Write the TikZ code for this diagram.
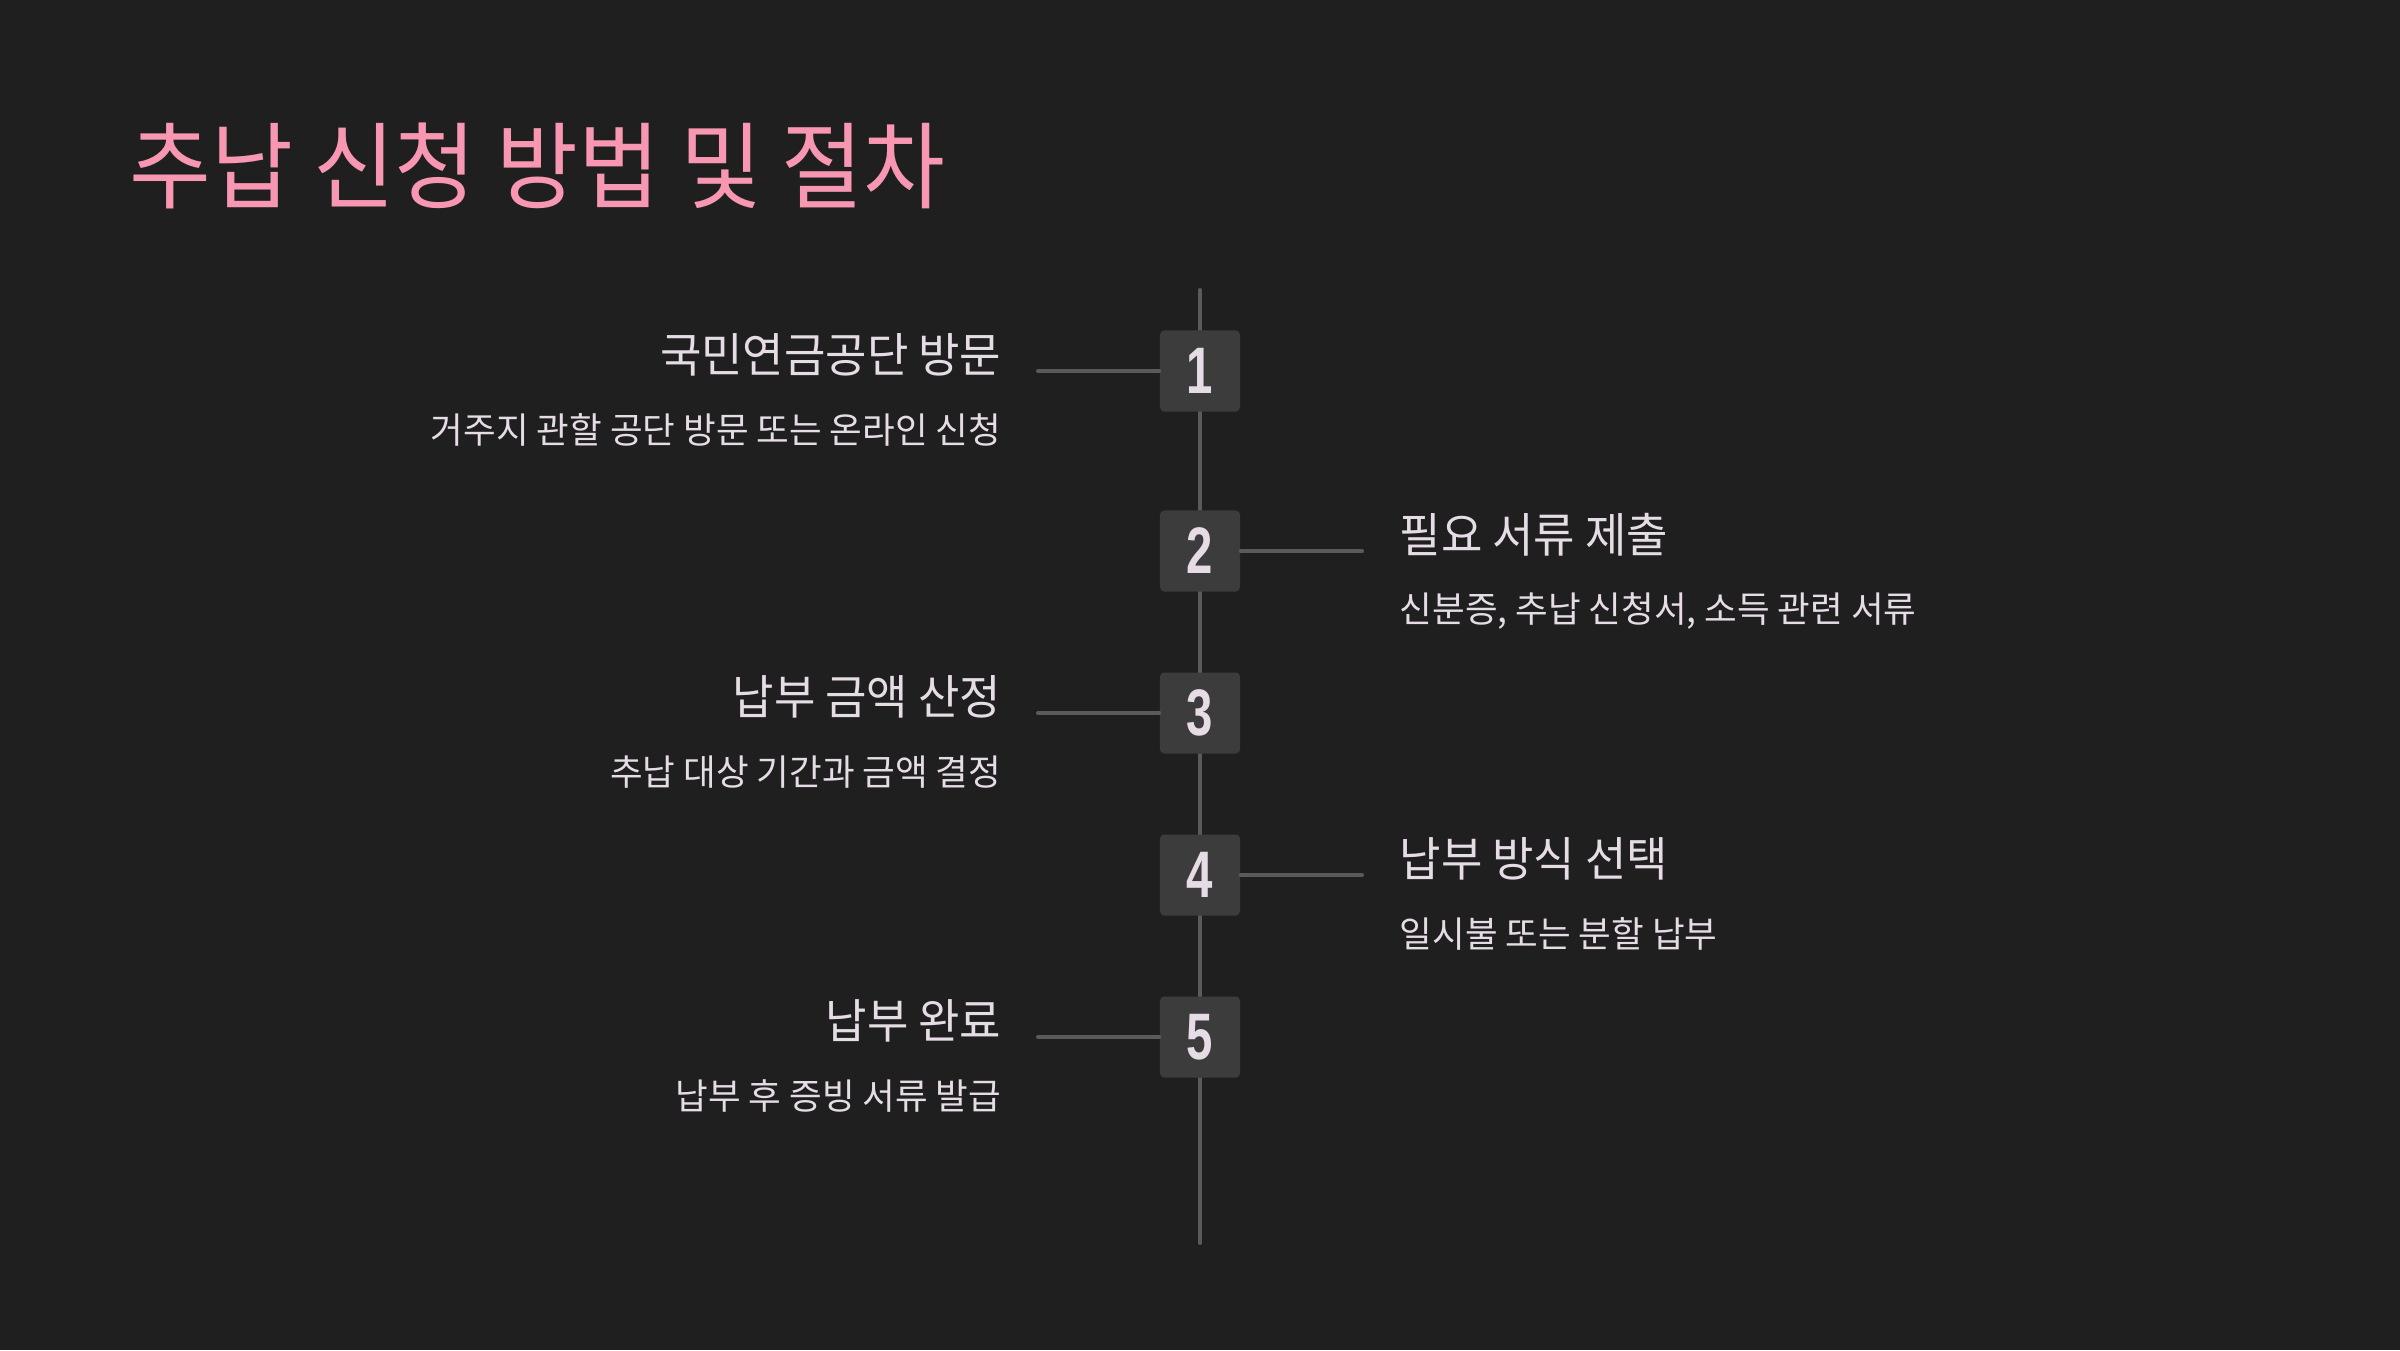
\documentclass[tikz,border=0pt]{standalone}
\usepackage{fontspec}
\newfontfamily\cjktitle[FakeStretch=0.94]{Noto Sans CJK KR}
\newfontfamily\cjkhead[FakeStretch=0.955]{Noto Sans CJK KR}
\newfontfamily\cjksub[FakeStretch=0.99]{Noto Sans CJK KR}
\newfontfamily\digitfont{Liberation Sans}
\definecolor{bg}{HTML}{1F1F1F}
\definecolor{titlepink}{HTML}{F797B2}
\definecolor{txt}{HTML}{E6DCE6}
\definecolor{boxfill}{HTML}{3C3C3C}
\definecolor{linec}{HTML}{5A5A5A}
\tikzset{
  x=0.01cm, y=-0.01cm,
  stepbox/.style={fill=boxfill, rounded corners=1.2pt, minimum width=0.8cm, minimum height=0.81cm, inner sep=0pt, text=txt, font=\digitfont\bfseries\fontsize{18.7}{20}\selectfont},
  conn/.style={draw=linec, line width=1.15pt, line cap=round},
  headl/.style={anchor=east, inner sep=0pt, text=txt, font=\cjkhead\fontsize{13.4}{16}\selectfont},
  subl/.style={anchor=east, inner sep=0pt, text=txt, font=\cjksub\fontsize{10.2}{12}\selectfont},
  headr/.style={anchor=west, inner sep=0pt, text=txt, font=\cjkhead\fontsize{13.4}{16}\selectfont},
  subr/.style={anchor=west, inner sep=0pt, text=txt, font=\cjksub\fontsize{10.2}{12}\selectfont},
}
\newcommand{\dig}[1]{\scalebox{0.72}[1]{#1}}
\begin{document}
\begin{tikzpicture}
\fill[bg] (0,0) rectangle (2400,1350);
\useasboundingbox (0,0) rectangle (2400,1350);
\node[anchor=west, inner sep=0pt, text=titlepink, font=\cjktitle\fontsize{26.9}{30}\selectfont] (title) at (129,166) {추납 신청 방법 및 절차};
\coordinate (top) at (1200,290);
\coordinate (bottom) at (1200,1243);
\draw[conn] (top) -- (bottom);
\node[stepbox] (b1) at (1200,371) {\dig{1}};
\node[stepbox] (b2) at (1200,551) {\dig{2}};
\node[stepbox] (b3) at (1200,713) {\dig{3}};
\node[stepbox] (b4) at (1200,875) {\dig{4}};
\node[stepbox] (b5) at (1200,1037) {\dig{5}};
\coordinate (e1) at (1038,371);
\coordinate (e2) at (1362,551);
\coordinate (e3) at (1038,713);
\coordinate (e4) at (1362,875);
\coordinate (e5) at (1038,1037);
\draw[conn] (e1) -- (b1.west);
\draw[conn] (b2.east) -- (e2);
\draw[conn] (e3) -- (b3.west);
\draw[conn] (b4.east) -- (e4);
\draw[conn] (e5) -- (b5.west);
\node[headl] (h1) at (1002,355) {국민연금공단 방문};
\node[subl] (s1) at (1002,430) {거주지 관할 공단 방문 또는 온라인 신청};
\node[headr] (h2) at (1399,535) {필요 서류 제출};
\node[subr] (s2) at (1399,611) {신분증, 추납 신청서, 소득 관련 서류};
\node[headl] (h3) at (1002,697) {납부 금액 산정};
\node[subl] (s3) at (1002,772) {추납 대상 기간과 금액 결정};
\node[headr] (h4) at (1399,859) {납부 방식 선택};
\node[subr] (s4) at (1399,934) {일시불 또는 분할 납부};
\node[headl] (h5) at (1002,1021) {납부 완료};
\node[subl] (s5) at (1002,1096) {납부 후 증빙 서류 발급};
\end{tikzpicture}
\end{document}
